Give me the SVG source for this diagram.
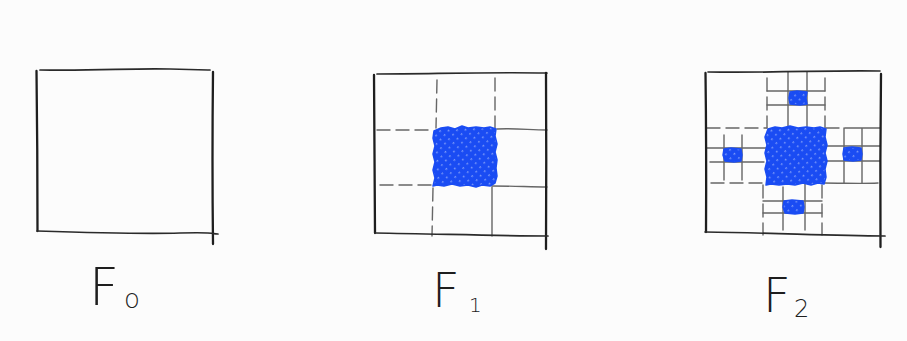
<svg xmlns="http://www.w3.org/2000/svg" width="907" height="341" viewBox="0 0 907 341">
<defs>
<pattern id="scr" width="6" height="6" patternUnits="userSpaceOnUse" patternTransform="rotate(42)">
<rect width="6" height="6" fill="#1a4cf3"/>
<rect x="0" y="0" width="1.4" height="1.8" fill="#7f9cf8"/>
</pattern>
<style>
.bd{fill:none;stroke:#1e1e1e;stroke-width:2.3;stroke-linecap:round}
.bh{fill:none;stroke:#2a2a2a;stroke-width:1.7;stroke-linecap:round}
.gd{fill:none;stroke:#666;stroke-width:1.4;stroke-linecap:round;stroke-dasharray:13 6}
.gs{fill:none;stroke:#666;stroke-width:1.4;stroke-linecap:round}
.bl{fill:url(#scr);stroke:#1a4cf3;stroke-width:1.5;stroke-linejoin:round}
.lb{font-family:"DejaVu Sans","Liberation Sans",sans-serif;font-weight:200;fill:#1e1e1e}
</style>
</defs>
<rect width="907" height="341" fill="#fcfcfc"/>

<g id="F0">
<path class="bd" d="M36.5,71 Q37.5,150 37.5,231"/>
<path class="bh" d="M40,70 C100,71 130,68 170,69 S205,70 210,70"/>
<path class="bd" d="M213,72 Q212,160 213,244"/>
<path class="bh" d="M37,231 C100,233 140,234 180,233 S210,234 218,234"/>
<text class="lb" x="89" y="305" font-size="52">F</text>
<text class="lb" x="124" y="308" font-size="26">o</text>
</g>

<g id="F1">
<path class="gd" d="M437,80 L436,128"/>
<path class="gd" d="M433,188 L432,236"/>
<path class="gd" d="M495,78 L495,128"/>
<path class="gs" d="M492,187 L492,236"/>
<path class="gd" d="M377,130 L433,130"/>
<path class="gs" d="M497,129 C515,128 530,130 547,130"/>
<path class="gd" d="M380,185 L433,185"/>
<path class="gs" d="M492,186 C515,186 530,187 547,187"/>
<path class="bl" d="M434,131 L441,128 448,127 455,129 462,126 468,128 476,127 484,128 490,127 496,129 495,136 497,144 495,152 497,160 496,168 497,176 495,183 490,186 482,185 476,187 468,185 460,186 452,184 444,186 437,185 433,186 435,178 433,170 435,162 433,154 435,146 433,138 Z"/>
<path class="bd" d="M374,75 Q374.5,150 375,233"/>
<path class="bh" d="M377,74 C430,74 480,72 547,73"/>
<path class="bd" d="M546,73 Q546.5,160 546,249"/>
<path class="bh" d="M375,233 C440,234 500,236 548,236"/>
<text class="lb" x="432" y="307" font-size="48">F</text>
<text class="lb" x="469" y="312" font-size="20">1</text>
</g>

<g id="F2">
<path class="gs" d="M767,91 L825,91 M767,105 L825,105 M788,72 L788,128 M807,72 L807,131"/>
<path class="gs" d="M707,148 L767,148 M710,162 L764,162 M724,135 L724,180 M742,135 L742,180"/>
<path class="gs" d="M825,146 L880,146 M825,161 L880,161 M844,128 L844,183 M862,128 L862,183 M845,128 L880,128"/>
<path class="gs" d="M763,201 L822,201 M763,213 L822,213 M783,187 L783,230 M805,183 L805,230"/>
<path class="gd" d="M767,78 L767,128 M825,78 L825,128"/>
<path class="gd" d="M763,185 L763,235 M822,185 L822,235"/>
<path class="gd" d="M707,128 L767,128 M826,128 L845,128"/>
<path class="gd" d="M711,183 L767,183"/>
<path class="gs" d="M823,183 C845,183 860,184 878,183"/>
<path class="bl" d="M768,129 L775,127 782,128 790,126 798,128 806,127 814,128 820,127 826,129 825,137 827,145 825,153 827,161 825,169 826,177 824,184 818,183 811,185 803,183 795,185 787,184 779,185 771,184 766,185 767,177 765,169 767,161 765,153 767,145 765,137 Z"/>
<path class="bl" d="M790,92 L797,91 807,92 806,98 807,104 800,105 790,104 789,98 Z"/>
<path class="bl" d="M724,149 L731,148 741,149 742,155 741,161 734,162 725,161 723,155 Z"/>
<path class="bl" d="M844,148 L852,147 861,148 862,154 861,160 853,161 844,160 843,154 Z"/>
<path class="bl" d="M784,201 L792,200 803,201 804,207 803,213 795,214 785,213 783,207 Z"/>
<path class="bd" d="M705.5,73 Q706.5,150 706,232"/>
<path class="bh" d="M708,72 C780,73 830,70 880,71"/>
<path class="bd" d="M881,74 Q880,160 880.5,247"/>
<path class="bh" d="M705,232 C780,233 830,236 885,236"/>
<text class="lb" x="763" y="312" font-size="48">F</text>
<text class="lb" x="794" y="317" font-size="24">2</text>
</g>
</svg>
